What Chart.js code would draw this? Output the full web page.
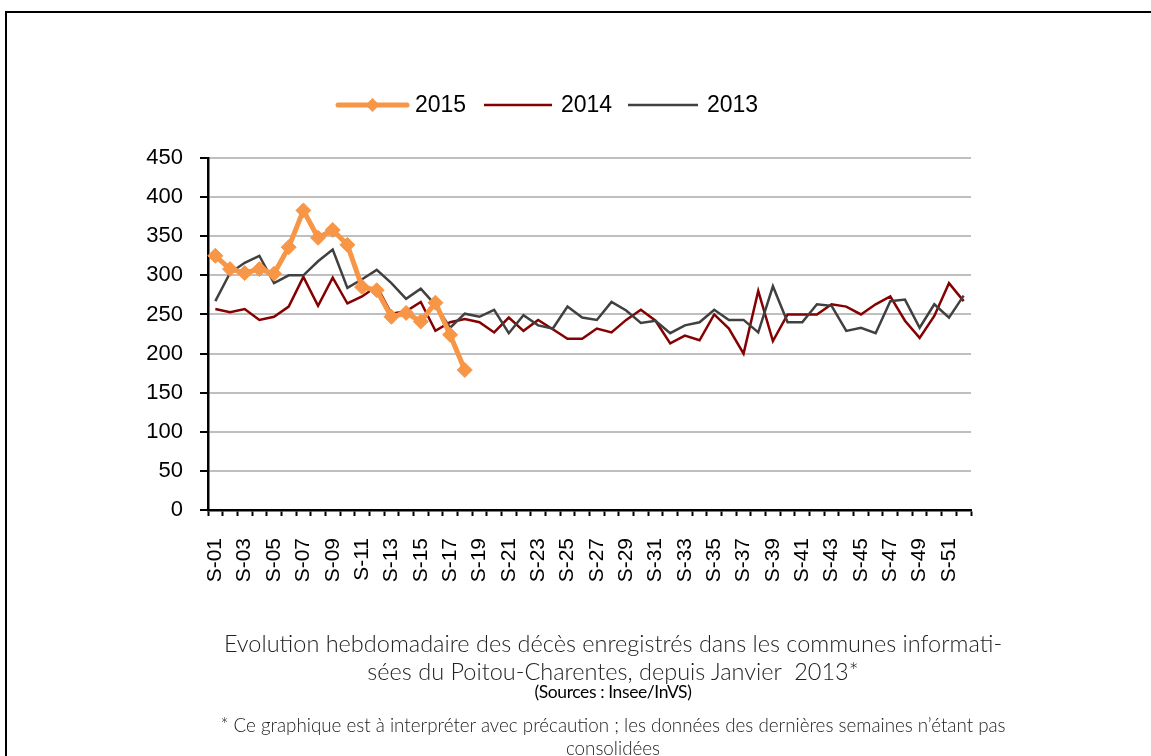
<!DOCTYPE html>
<html>
<head>
<meta charset="utf-8">
<script src="https://cdn.jsdelivr.net/npm/chart.js@4/dist/chart.umd.min.js"></script>
<style>
  html, body { margin: 0; padding: 0; background: #fff; overflow: hidden; }
  body { width: 1151px; height: 756px; position: relative; }
  #frame { position: absolute; left: 5px; top: 11px; width: 1300px; height: 900px;
           border-left: 2px solid #000; border-top: 2px solid #000; }
  #chart { position: absolute; left: 0; top: 0; }
  .cap { position: absolute; left: 113px; width: 1000px; text-align: center; color: #222;
         font-family: Lato, "Open Sans", sans-serif; white-space: nowrap; line-height: 1.2; }
  .l1 { top: 629px; font-size: 23.5px; font-weight: 300; }
  .l2 { top: 657px; font-size: 23.5px; font-weight: 300; }
  .l3 { top: 681px; font-size: 17.5px; font-weight: 400; color: #000; letter-spacing: -0.4px; }
  .l4 { top: 714px; font-size: 18.8px; font-weight: 300; }
  .l5 { top: 737px; font-size: 18.8px; font-weight: 300; }
</style>
</head>
<body>
<div id="frame"></div>
<canvas id="chart" width="1151" height="756"></canvas>
<div class="cap l1">Evolution hebdomadaire des décès enregistrés dans les communes informati-</div>
<div class="cap l2">sées du Poitou-Charentes, depuis Janvier&nbsp; 2013*</div>
<div class="cap l3">(Sources : Insee/InVS)</div>
<div class="cap l4">* Ce graphique est à interpréter avec précaution ; les données des dernières semaines n’étant pas</div>
<div class="cap l5">consolidées</div>
<script>
// Weeks of the year
const weeks = ['S-01','S-02','S-03','S-04','S-05','S-06','S-07','S-08','S-09','S-10',
  'S-11','S-12','S-13','S-14','S-15','S-16','S-17','S-18','S-19','S-20',
  'S-21','S-22','S-23','S-24','S-25','S-26','S-27','S-28','S-29','S-30',
  'S-31','S-32','S-33','S-34','S-35','S-36','S-37','S-38','S-39','S-40',
  'S-41','S-42','S-43','S-44','S-45','S-46','S-47','S-48','S-49','S-50',
  'S-51','S-52'];

// Weekly deaths
const deaths2015 = [325, 308, 303, 308, 302, 336, 383, 348, 358, 339,
  285, 281, 247, 252, 241, 265, 224, 179];
const deaths2014 = [257, 253, 257, 243, 247, 260, 298, 261, 297, 264,
  273, 286, 251, 254, 266, 229, 240, 244, 240, 227,
  246, 229, 243, 231, 219, 219, 232, 227, 243, 256,
  242, 213, 223, 217, 250, 232, 200, 280, 216, 250,
  250, 250, 263, 260, 250, 263, 273, 242, 220, 248,
  290, 267];
const deaths2013 = [267, 303, 316, 325, 290, 300, 300, 318, 333, 284,
  295, 307, 290, 270, 283, 262, 233, 251, 247, 256,
  226, 249, 236, 232, 260, 246, 243, 266, 255, 239,
  242, 226, 236, 240, 256, 243, 243, 227, 286, 240,
  240, 263, 261, 229, 233, 226, 267, 269, 233, 263,
  246, 274];

const yTicks = [0, 50, 100, 150, 200, 250, 300, 350, 400, 450];

// legend drawn by hand above the plot (line + optional diamond + year)
const topLegend = {
  id: 'topLegend',
  afterDraw(chart) {
    const ctx = chart.ctx;
    const spots = [
      { ds: 0, x1: 338, x2: 407, tx: 415 },
      { ds: 1, x1: 484, x2: 552, tx: 561 },
      { ds: 2, x1: 628, x2: 698, tx: 707 }
    ];
    const y = 105;
    ctx.save();
    spots.forEach(s => {
      const d = chart.data.datasets[s.ds];
      ctx.strokeStyle = d.borderColor;
      ctx.lineWidth = d.borderWidth;
      ctx.lineCap = s.ds === 0 ? 'round' : 'butt';
      ctx.beginPath();
      ctx.moveTo(s.x1, y);
      ctx.lineTo(s.x2, y);
      ctx.stroke();
      if (s.ds === 0) {
        const cx = (s.x1 + s.x2) / 2, r = 7;
        ctx.fillStyle = d.borderColor;
        ctx.beginPath();
        ctx.moveTo(cx, y - r); ctx.lineTo(cx + r, y);
        ctx.lineTo(cx, y + r); ctx.lineTo(cx - r, y);
        ctx.closePath();
        ctx.fill();
      }
      ctx.fillStyle = '#000';
      ctx.font = '23px "Liberation Sans", Arial, sans-serif';
      ctx.textBaseline = 'middle';
      ctx.textAlign = 'left';
      ctx.fillText(d.label, s.tx, y + 1);
    });
    ctx.restore();
  }
};

const ctx = document.getElementById('chart').getContext('2d');
new Chart(ctx, {
  type: 'line',
  data: {
    labels: weeks,
    datasets: [
      {
        label: '2015',
        data: deaths2015,
        borderColor: '#F79646',
        backgroundColor: '#F79646',
        borderWidth: 5,
        pointStyle: 'rectRot',
        pointRadius: 7.5,
        pointBorderWidth: 1,
        tension: 0,
        order: 0
      },
      {
        label: '2014',
        data: deaths2014,
        borderColor: '#850000',
        backgroundColor: '#850000',
        borderWidth: 2.5,
        pointRadius: 0,
        tension: 0,
        order: 2
      },
      {
        label: '2013',
        data: deaths2013,
        borderColor: '#404040',
        backgroundColor: '#404040',
        borderWidth: 2.5,
        pointRadius: 0,
        tension: 0,
        order: 1
      }
    ]
  },
  options: {
    responsive: false,
    animation: false,
    layout: { padding: { left: 138, right: 180, top: 158, bottom: 166 } },
    plugins: {
      legend: { display: false },
      tooltip: { enabled: false }
    },
    scales: {
      x: {
        offset: true,
        grid: {
          offset: true,
          drawOnChartArea: false,
          drawTicks: true,
          tickLength: 6,
          tickColor: '#000',
          tickWidth: 2
        },
        border: { color: '#000', width: 2.5 },
        ticks: {
          autoSkip: false,
          maxRotation: 90,
          minRotation: 90,
          padding: 22,
          color: '#000',
          font: { family: '"Liberation Sans", Arial, sans-serif', size: 21 },
          callback: function(val, i) { return i % 2 === 0 ? weeks[i] : ''; }
        },
        afterFit: function(axis) { axis.height = 80; }
      },
      y: {
        min: 0,
        max: 450,
        afterBuildTicks: function(axis) { axis.ticks = yTicks.map(v => ({ value: v })); },
        grid: {
          color: '#BFBFBF',
          lineWidth: 2,
          tickLength: 8,
          tickColor: '#000',
          tickWidth: 2
        },
        border: { color: '#000', width: 2.5 },
        ticks: {
          padding: 17,
          color: '#000',
          font: { family: '"Liberation Sans", Arial, sans-serif', size: 22 }
        },
        afterFit: function(axis) { axis.width = 70; }
      }
    }
  },
  plugins: [topLegend]
});
</script>
</body>
</html>
